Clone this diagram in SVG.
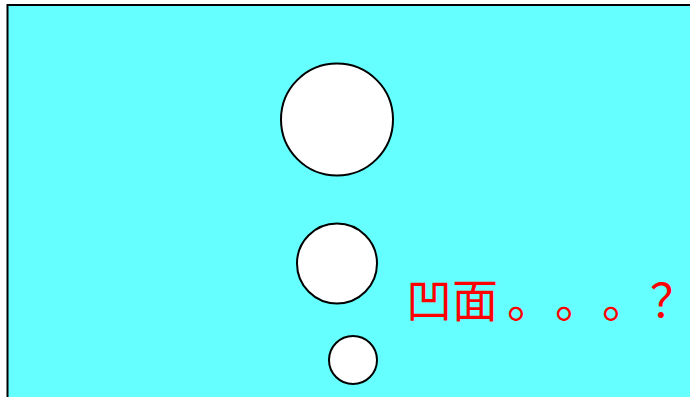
<svg xmlns="http://www.w3.org/2000/svg" width="690" height="397" viewBox="0 0 690 397">
<style>
.c{fill:#ffffff;stroke:#000000;stroke-width:2}
.t{font-family:"Noto Sans CJK SC","Noto Sans CJK JP",sans-serif;font-size:46px;fill:#ff0000}
</style>
<rect x="0" y="0" width="690" height="397" fill="#ffffff"/>
<rect x="7.5" y="5" width="700" height="420" fill="#66ffff" stroke="#000000" stroke-width="2"/>
<g id="circle-large"><circle class="c" cx="337" cy="119.5" r="56"/></g>
<g id="circle-medium"><circle class="c" cx="337" cy="263.5" r="40"/></g>
<g id="circle-small"><circle class="c" cx="353" cy="360" r="24"/></g>
<g id="label"><text class="t" x="406 452 507 555 602 650" y="317">凹面。。。？</text></g>
<g id="connectors"/>
</svg>
